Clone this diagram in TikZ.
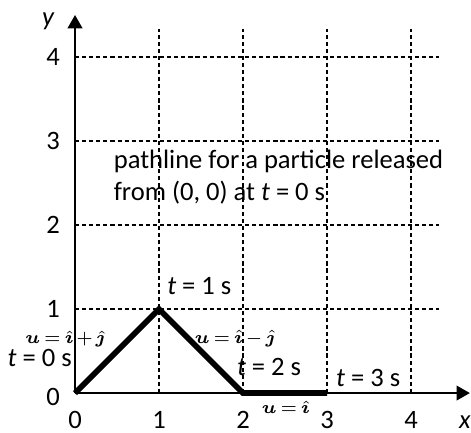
\documentclass[tikz,border=0pt]{standalone}
\usepackage{amsmath,bm}
\usepackage{fontspec}
\setmainfont{Carlito}
\usetikzlibrary{arrows.meta}

\newcommand{\velo}[1]{{\fontsize{6.3}{7}\selectfont\medmuskip=2mu\thickmuskip=3mu$#1$}}

\begin{document}
\begin{tikzpicture}[scale=1,
	font=\fontsize{9}{10.6}\selectfont,
	every node/.style={inner sep=1pt},
	gridline/.style={dashed,dash pattern=on 1.4pt off 1pt,line width=0.4pt},
	pathline/.style={line width=1.9pt},
	axis/.style={line width=0.5pt,-{Triangle[width=5pt,length=4.5pt]}}]

	\useasboundingbox (-0.893,-0.464) rectangle (4.714,4.679);

	% grid
	\foreach \k in {1,2,3,4} {
		\draw[gridline] (\k,0) -- (\k,4.33);
		\draw[gridline] (0,\k) -- (4.33,\k);
	}

	% axes
	\coordinate (o) at (0,0);
	\coordinate (xend) at (4.7,0);
	\coordinate (yend) at (0,4.5);
	\draw[axis] (o) -- (xend);
	\draw[axis] (o) -- (yend);

	% axis labels
	\node (xlab) at (4.64,-0.35) {\itshape x};
	\node (ylab) at (-0.32,4.42) {\itshape y};

	% ticks
	\foreach \k in {0,1,2,3,4} {
		\node (xt\k) at (\k,-0.32) {\k};
	}
	\foreach \k in {1,2,3,4} {
		\node (yt\k) at (-0.26,\k) {\k};
	}
	\node (yt0) at (-0.26,-0.05) {0};

	% pathline
	\coordinate (p0) at (0,0);
	\coordinate (p1) at (1,1);
	\coordinate (p2) at (2,0);
	\coordinate (p3) at (3,0);
	\draw[pathline] (p0) -- (p1) -- (p2) -- (p3);

	% times
	\node (t0) at (-0.42,0.42) {\itshape t\upshape\ = 0 s};
	\node (t1) at (1.48,1.27) {\itshape t\upshape\ = 1 s};
	\node (t2) at (2.31,0.31) {\itshape t\upshape\ = 2 s};
	\node (t3) at (3.49,0.18) {\itshape t\upshape\ = 3 s};

	% velocities
	\node (u1) at (-0.12,0.64) {\velo{\bm{u}=\hat{\bm{\imath}}+\hat{\bm{\jmath}}}};
	\node (u2) at (1.9,0.65) {\velo{\bm{u}=\hat{\bm{\imath}}-\hat{\bm{\jmath}}}};
	\node (u3) at (2.51,-0.17) {\velo{\bm{u}=\hat{\bm{\imath}}}};

	% caption
	\node[anchor=west,align=left] (cap) at (0.42,2.57)
		{pathline for a particle released\\from (0, 0) at \itshape t\upshape\ = 0 s};

\end{tikzpicture}
\end{document}
